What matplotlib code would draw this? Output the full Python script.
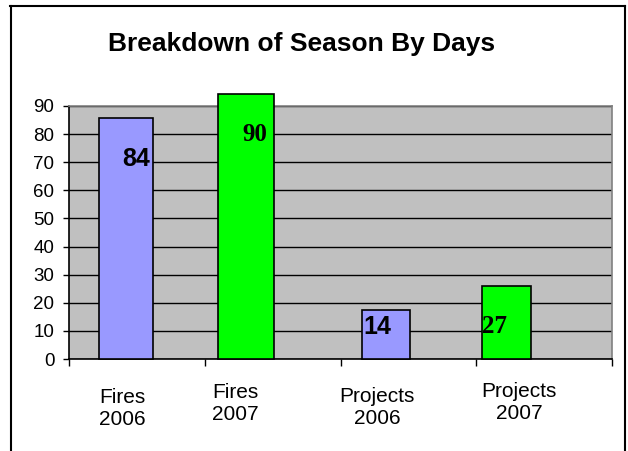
import matplotlib.pyplot as plt
from matplotlib.lines import Line2D

# ── Data ────────────────────────────────────────────────────
categories = ['Fires\n2006', 'Fires\n2007', 'Projects\n2006', 'Projects\n2007']
bar_heights = [85.7, 94.3, 17.5, 26.1]      # drawn bar tops
bar_labels = ['84', '90', '14', '27']        # typed-in value labels
bar_colors = ['#9999FF', '#00FF00', '#9999FF', '#00FF00']

# ── Layout (bars sit off-centre within their category slots) ──
bar_left = [0.22, 1.10, 2.16, 3.045]
bar_width = [0.40, 0.41, 0.355, 0.36]
label_x = [0.395, 1.28, 2.165, 3.045]
label_y = [71.1, 79.7, 11.4, 11.4]
label_font = ['Liberation Sans', 'Liberation Serif', 'Liberation Sans', 'Liberation Serif']
cat_x = [0.39, 1.225, 2.27, 3.315]
cat_y = [-17.6, -15.8, -17.4, -15.5]

fig = plt.figure(figsize=(6.28, 4.51), dpi=100)
ax = fig.add_axes([69 / 628, 1 - 359 / 451, (612 - 69) / 628, (359 - 106) / 451])
ax.set_facecolor('#C0C0C0')

ax.bar(bar_left, bar_heights, width=bar_width, align='edge',
       color=bar_colors, edgecolor='black', linewidth=1.2, zorder=3, clip_on=False)

for x, y, t, f in zip(label_x, label_y, bar_labels, label_font):
    ax.text(x, y, t, ha='left', va='center', fontsize=18, fontweight='bold',
            family=f, zorder=4)

ax.set_xlim(0, 4)
ax.set_ylim(0, 90)
ax.set_yticks(range(0, 91, 10))
ax.yaxis.grid(True, color='black', linewidth=1.0, zorder=1)
ax.tick_params(axis='y', length=4.5, width=1, pad=6, labelsize=13.5)
for lbl in ax.get_yticklabels():
    lbl.set_family('Liberation Sans')

ax.set_xticks([0, 1, 2, 3, 4])
ax.set_xticklabels([])
ax.tick_params(axis='x', length=5, width=1)

for x, y, c in zip(cat_x, cat_y, categories):
    ax.text(x, y, c, ha='center', va='center', fontsize=15,
            family='Liberation Sans', linespacing=1.2, clip_on=False)

ax.spines['left'].set_color('black')
ax.spines['bottom'].set_color('black')
ax.spines['top'].set_color('#808080')
ax.spines['right'].set_color('#808080')
for s in ax.spines.values():
    s.set_linewidth(1.2)

fig.text(302 / 628, 1 - 44 / 451, 'Breakdown of Season By Days', ha='center',
         va='center', fontsize=19, fontweight='bold', family='Liberation Sans')

# outer chart frame, open at the bottom
W, H = 628, 451
frame = [((10.5, 10.5), (0, 445)), ((10, 625), (445, 445)), ((625, 625), (445, 0))]
for xs, ys in frame:
    fig.add_artist(Line2D([v / W for v in xs], [v / H for v in ys],
                          color='black', linewidth=1.5))

fig.savefig('out.png', dpi=100)
